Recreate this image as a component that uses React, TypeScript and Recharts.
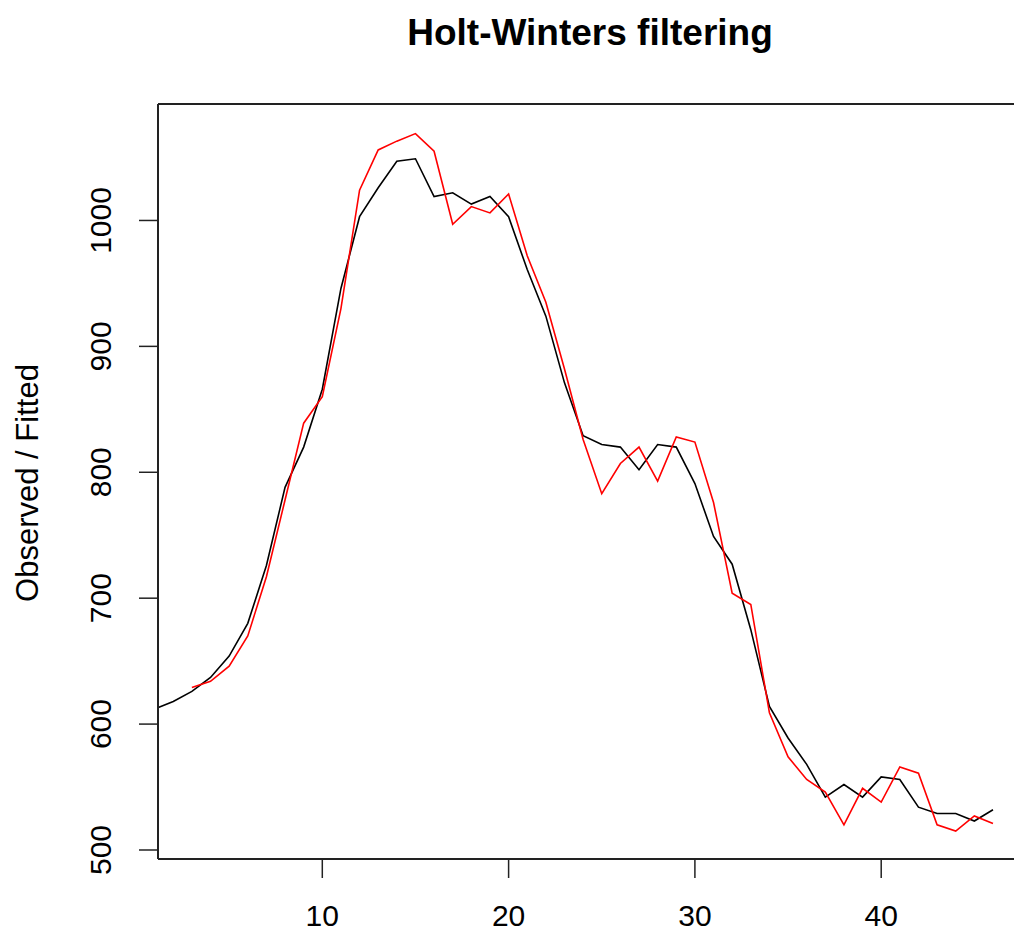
import { LineChart, Line, XAxis, YAxis } from "recharts";

// Time index of the series
const TIME = [
  1, 2, 3, 4, 5, 6, 7, 8, 9, 10, 11, 12, 13, 14, 15, 16, 17, 18, 19, 20, 21, 22, 23,
  24, 25, 26, 27, 28, 29, 30, 31, 32, 33, 34, 35, 36, 37, 38, 39, 40, 41, 42, 43, 44,
  45, 46,
];

// Observed values (black)
const OBSERVED = [
  612, 618, 626, 637, 654, 680, 726, 788, 820, 866, 946, 1003, 1026, 1047, 1049, 1019,
  1022, 1013, 1019, 1003, 961, 924, 871, 829, 822, 820, 802, 822, 820, 791, 749, 727,
  675, 614, 589, 568, 542, 552, 542, 558, 556, 534, 529, 529, 523, 532,
];

// Holt-Winters fitted values (red), first two periods have no fit
const FITTED = [
  null, null, 629, 634, 646, 670, 717, 778, 839, 860, 930, 1024, 1056, 1063, 1069, 1055,
  997, 1011, 1006, 1021, 972, 935, 882, 826, 783, 807, 820, 793, 828, 824, 776, 704,
  695, 609, 574, 556, 546, 520, 549, 538, 566, 561, 520, 515, 527, 521,
];

const X_TICKS = [10, 20, 30, 40];
const Y_TICKS = [500, 600, 700, 800, 900, 1000];

const data = TIME.map((t, i) => ({ t, observed: OBSERVED[i], fitted: FITTED[i] }));

const FONT = '"Liberation Sans", Arial, sans-serif';
const AXIS = "#222";
const X_DOMAIN = [1.181, 47.128];

// eslint-disable-next-line @typescript-eslint/no-explicit-any
function XTick({ x, y, payload }: any) {
  return (
    <text x={x} y={y} dy="0.71em" textAnchor="middle" fontSize={30} fontFamily={FONT} fill="#000">
      {payload.value}
    </text>
  );
}

// eslint-disable-next-line @typescript-eslint/no-explicit-any
function YTick({ x, y, payload }: any) {
  return (
    <text
      x={x}
      y={y}
      transform={`rotate(-90, ${x}, ${y})`}
      textAnchor="middle"
      fontSize={30}
      fontFamily={FONT}
      fill="#000"
    >
      {payload.value}
    </text>
  );
}

export default function App() {
  return (
    <div style={{ position: "absolute", left: 0, top: 0, width: 1014, height: 933, background: "#fff" }}>
      <LineChart
        width={1014}
        height={933}
        data={data}
        margin={{ top: 103, right: 0, bottom: 0, left: 0 }}
      >
        <XAxis
          dataKey="t"
          type="number"
          domain={X_DOMAIN}
          allowDataOverflow
          ticks={X_TICKS}
          tick={<XTick />}
          tickSize={19}
          tickMargin={27}
          height={74}
          axisLine={{ stroke: AXIS, strokeWidth: 2 }}
          tickLine={{ stroke: AXIS, strokeWidth: 1.5 }}
        />
        {/* top edge of the plot box */}
        <XAxis
          xAxisId="top"
          dataKey="t"
          type="number"
          orientation="top"
          domain={X_DOMAIN}
          allowDataOverflow
          ticks={X_TICKS}
          tick={false}
          tickLine={false}
          height={1}
          axisLine={{ stroke: AXIS, strokeWidth: 2 }}
        />
        <YAxis
          type="number"
          domain={[492.85, 1092.5]}
          allowDataOverflow
          ticks={Y_TICKS}
          tick={<YTick />}
          tickSize={19}
          tickMargin={28}
          width={158}
          axisLine={{ stroke: AXIS, strokeWidth: 2 }}
          tickLine={{ stroke: AXIS, strokeWidth: 1.5 }}
        />
        <Line
          dataKey="observed"
          type="linear"
          stroke="#000"
          strokeWidth={1.6}
          dot={false}
          activeDot={false}
          isAnimationActive={false}
        />
        <Line
          dataKey="fitted"
          type="linear"
          stroke="#ff0000"
          strokeWidth={1.6}
          dot={false}
          activeDot={false}
          isAnimationActive={false}
        />
      </LineChart>
      <svg
        width={1014}
        height={933}
        style={{ position: "absolute", left: 0, top: 0, pointerEvents: "none" }}
      >
        <text x={590} y={45} textAnchor="middle" fontSize={37} fontWeight="bold" fontFamily={FONT} fill="#000">
          Holt-Winters filtering
        </text>
        <text
          x={38}
          y={483}
          transform="rotate(-90, 38, 483)"
          textAnchor="middle"
          fontSize={31}
          fontFamily={FONT}
          fill="#000"
        >
          Observed / Fitted
        </text>
      </svg>
    </div>
  );
}
